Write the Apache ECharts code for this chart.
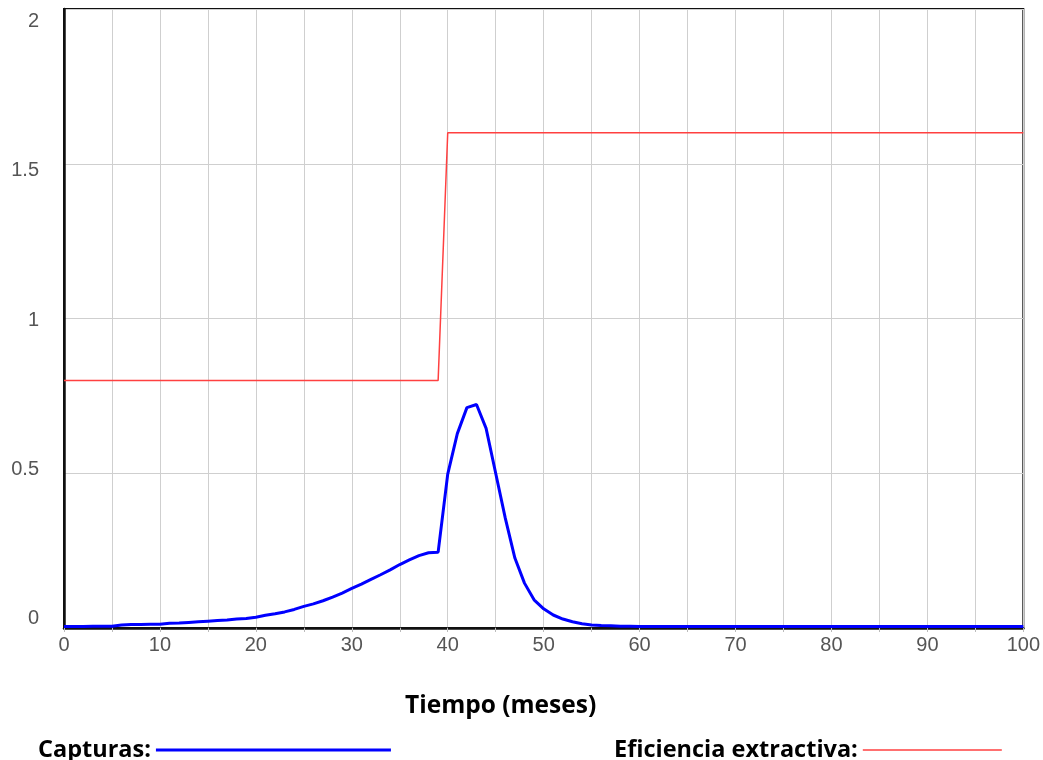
<!DOCTYPE html>
<html>
<head>
<meta charset="utf-8">
<script src="https://cdn.jsdelivr.net/npm/echarts@6/dist/echarts.min.js"></script>
<style>
html,body{margin:0;padding:0;background:#fff;}
#chart{width:1043px;height:760px;}
</style>
</head>
<body>
<div id="chart"></div>
<script>
const months = [0,1,2,3,4,5,6,7,8,9,10,11,12,13,14,15,16,17,18,19,20,21,22,23,24,25,26,27,28,29,30,31,32,33,34,35,36,37,38,39,40,41,42,43,44,45,46,47,48,49,50,51,52,53,54,55,56,57,58,59,60,61,62,63,64,65,66,67,68,69,70,71,72,73,74,75,76,77,78,79,80,81,82,83,84,85,86,87,88,89,90,91,92,93,94,95,96,97,98,99,100];

const capturas = [0.005,0.005,0.005,0.006,0.006,0.006,0.010,0.011,0.011,0.012,0.012,0.015,0.016,0.018,0.020,0.022,0.024,0.026,0.029,0.031,0.035,0.041,0.046,0.052,0.060,0.070,0.078,0.088,0.100,0.113,0.128,0.142,0.157,0.172,0.188,0.205,0.220,0.234,0.243,0.245,0.497,0.628,0.712,0.722,0.645,0.500,0.355,0.226,0.145,0.091,0.062,0.042,0.029,0.020,0.014,0.010,0.008,0.007,0.006,0.006,0.005,0.005,0.005,0.005,0.005,0.005,0.005,0.005,0.005,0.005,0.005,0.005,0.005,0.005,0.005,0.005,0.005,0.005,0.005,0.005,0.005,0.005,0.005,0.005,0.005,0.005,0.005,0.005,0.005,0.005,0.005,0.005,0.005,0.005,0.005,0.005,0.005,0.005,0.005,0.005,0.005];

const eficiencia = [0.8,0.8,0.8,0.8,0.8,0.8,0.8,0.8,0.8,0.8,0.8,0.8,0.8,0.8,0.8,0.8,0.8,0.8,0.8,0.8,0.8,0.8,0.8,0.8,0.8,0.8,0.8,0.8,0.8,0.8,0.8,0.8,0.8,0.8,0.8,0.8,0.8,0.8,0.8,0.8,1.6,1.6,1.6,1.6,1.6,1.6,1.6,1.6,1.6,1.6,1.6,1.6,1.6,1.6,1.6,1.6,1.6,1.6,1.6,1.6,1.6,1.6,1.6,1.6,1.6,1.6,1.6,1.6,1.6,1.6,1.6,1.6,1.6,1.6,1.6,1.6,1.6,1.6,1.6,1.6,1.6,1.6,1.6,1.6,1.6,1.6,1.6,1.6,1.6,1.6,1.6,1.6,1.6,1.6,1.6,1.6,1.6,1.6,1.6,1.6,1.6];

const xTickLabels = ['0','10','20','30','40','50','60','70','80','90','100'];
const yTickLabels = ['0','0.5','1','1.5','2'];

const labelFont = 'Liberation Sans';
const boldFont = 'Open Sans';

const chart = echarts.init(document.getElementById('chart'), null, {renderer: 'canvas'});

chart.setOption({
  animation: false,
  backgroundColor: '#ffffff',
  title: {
    text: 'Tiempo (meses)',
    left: 400,
    top: 689,
    textStyle: {fontFamily: boldFont, fontWeight: 'bold', fontSize: 24.5, color: '#000'}
  },
  legend: [
    {
      data: ['Capturas'],
      left: 33,
      top: 733,
      align: 'right',
      icon: 'rect',
      itemWidth: 235,
      itemHeight: 3,
      formatter: '{name}:',
      selectedMode: false,
      textStyle: {fontFamily: boldFont, fontWeight: 'bold', fontSize: 23.5, color: '#000'}
    },
    {
      data: ['Eficiencia extractiva'],
      left: 609,
      top: 733,
      align: 'right',
      icon: 'rect',
      itemWidth: 139,
      itemHeight: 1.5,
      formatter: '{name}:',
      selectedMode: false,
      textStyle: {fontFamily: boldFont, fontWeight: 'bold', fontSize: 23.5, color: '#000'}
    }
  ],
  grid: [
    {left: 64, right: 19, top: 9, bottom: 132, show: true, borderColor: '#111', borderWidth: 2, containLabel: false},
    {left: 64, right: 19, top: 21.5, bottom: 141.5, show: false, containLabel: false}
  ],
  xAxis: [
    {
      type: 'value', gridIndex: 0, min: 0, max: 100, interval: 5,
      axisLine: {show: true, lineStyle: {color: '#111', width: 2.5}},
      axisTick: {show: true, length: 4, lineStyle: {color: '#bbb'}},
      axisLabel: {
        show: true, margin: 7, fontFamily: labelFont, fontSize: 20, color: '#555',
        formatter: function (v) { const s = String(v); return xTickLabels.indexOf(s) >= 0 ? s : ''; }
      },
      splitLine: {show: true, lineStyle: {color: '#cfcfcf', width: 1}}
    },
    {
      type: 'value', gridIndex: 1, min: 0, max: 100, show: false
    }
  ],
  yAxis: [
    {
      type: 'value', gridIndex: 0, min: 0, max: 2, interval: 0.5,
      axisLine: {show: true, lineStyle: {color: '#111', width: 2.5}},
      axisTick: {show: false},
      axisLabel: {show: false},
      splitLine: {show: true, lineStyle: {color: '#cfcfcf', width: 1}}
    },
    {
      type: 'value', gridIndex: 1, min: 0, max: 2, interval: 0.5,
      axisLine: {show: false},
      axisTick: {show: false},
      splitLine: {show: false},
      axisLabel: {
        show: true, margin: 25, fontFamily: labelFont, fontSize: 20, color: '#555',
        formatter: function (v) { const s = String(v); return yTickLabels.indexOf(s) >= 0 ? s : ''; }
      }
    }
  ],
  series: [
    {
      name: 'Capturas',
      type: 'line',
      xAxisIndex: 0, yAxisIndex: 0,
      showSymbol: false,
      symbol: 'none',
      color: '#0000ff',
      lineStyle: {color: '#0000ff', width: 3},
      data: months.map((m, i) => [m, capturas[i]]),
      z: 3
    },
    {
      name: 'Eficiencia extractiva',
      type: 'line',
      xAxisIndex: 0, yAxisIndex: 0,
      showSymbol: false,
      symbol: 'none',
      color: '#ff4040',
      lineStyle: {color: '#ff4040', width: 1.5},
      data: months.map((m, i) => [m, eficiencia[i]]),
      z: 2
    },
    {
      name: 'labels',
      type: 'line',
      xAxisIndex: 1, yAxisIndex: 1,
      data: [],
      silent: true
    }
  ]
});
</script>
</body>
</html>
